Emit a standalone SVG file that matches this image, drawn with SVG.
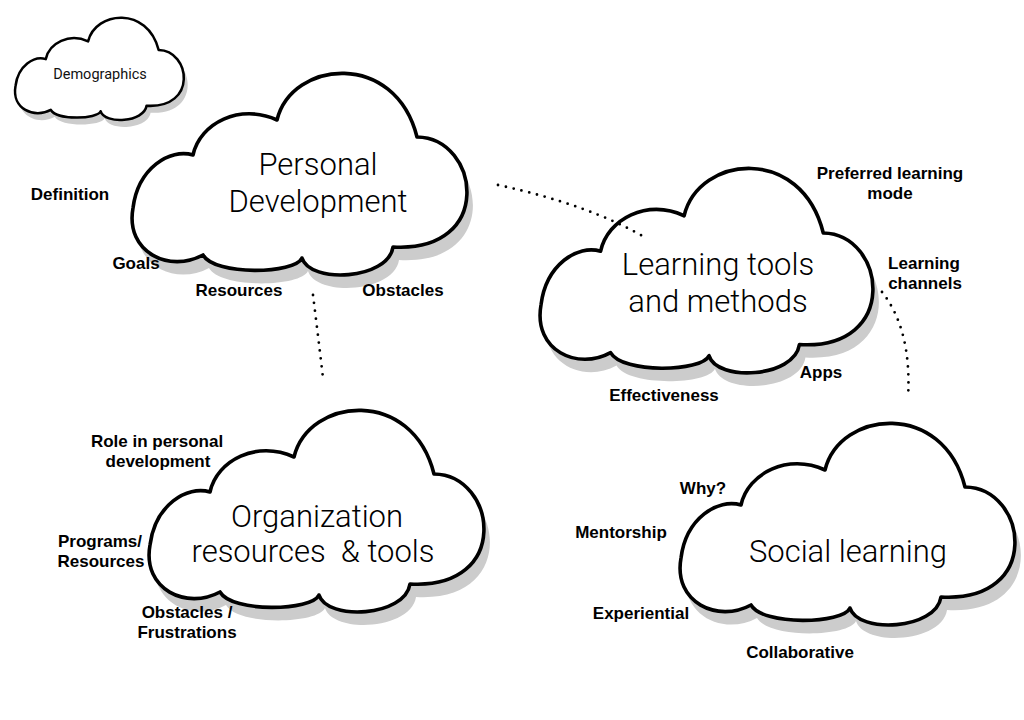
<svg xmlns="http://www.w3.org/2000/svg" xmlns:xlink="http://www.w3.org/1999/xlink" width="1024" height="720" viewBox="0 0 1024 720">
<style>
.shadow{fill:#cccccc;stroke:none}
.cloud{fill:#ffffff;stroke:#000000;stroke-width:3.6;stroke-linejoin:round}
.cloud-s{fill:#ffffff;stroke:#000000;stroke-width:5;stroke-linejoin:round}
.title{font-family:Roboto,"Liberation Sans",sans-serif;font-weight:300;font-size:31px;fill:#000;text-anchor:middle}
.small-title{font-family:Roboto,"Liberation Sans",sans-serif;font-weight:400;font-size:14.5px;fill:#111;text-anchor:middle}
.label{font-family:"Liberation Sans",Arial,sans-serif;font-weight:bold;font-size:17px;fill:#000;text-anchor:middle}
.dots{fill:none;stroke:#000;stroke-width:2.8;stroke-linecap:round;stroke-dasharray:0 8}
</style>
<defs>
<path id="cloudShape" d="M63,87 C70,55 110,35 147,52 C162,-8 265,-18 287,69 C350,70 365,185 263,179 C258,212 180,216 172,190 C165,206 85,208 73,187 C40,205 -5,185 3,140 C8,100 40,80 63,87 Z"/>
</defs>
<rect width="1024" height="720" fill="#ffffff"/>

<g id="demographics">
<use xlink:href="#cloudShape" class="shadow" transform="translate(18,22) scale(0.504,0.507)"/>
<use xlink:href="#cloudShape" class="cloud-s" transform="translate(14,15) scale(0.504,0.507)"/>
<text class="small-title" x="100" y="79">Demographics</text>
</g>

<g id="personal-development">
<use xlink:href="#cloudShape" class="shadow" transform="translate(136,81)"/>
<use xlink:href="#cloudShape" class="cloud" transform="translate(130,68)"/>
<text class="title" x="318" y="175">Personal</text>
<text class="title" x="318" y="212">Development</text>
</g>

<g id="learning-tools">
<use xlink:href="#cloudShape" class="shadow" transform="translate(544,176) scale(0.994,1.014)"/>
<use xlink:href="#cloudShape" class="cloud" transform="translate(538,163) scale(0.994,1.014)"/>
<text class="title" x="718" y="275">Learning tools</text>
<text class="title" x="718" y="312">and methods</text>
</g>

<g id="organization">
<use xlink:href="#cloudShape" class="shadow" transform="translate(153,418)"/>
<use xlink:href="#cloudShape" class="cloud" transform="translate(147,405)"/>
<text class="title" x="317" y="527">Organization</text>
<text class="title" x="313" y="562" xml:space="preserve">resources  &amp; tools</text>
</g>

<g id="social-learning">
<use xlink:href="#cloudShape" class="shadow" transform="translate(684,431)"/>
<use xlink:href="#cloudShape" class="cloud" transform="translate(678,418)"/>
<text class="title" x="848" y="562">Social learning</text>
</g>

<g id="connectors">
<path class="dots" d="M498,185 Q590,205 646,238"/>
<path class="dots" d="M313,295 Q318,335 323,378"/>
<path class="dots" d="M882,292 Q912,330 908,398"/>
</g>

<g id="labels">
<text class="label" x="70" y="200">Definition</text>
<text class="label" x="136" y="269">Goals</text>
<text class="label" x="239" y="296">Resources</text>
<text class="label" x="403" y="296">Obstacles</text>
<text class="label" x="890" y="179">Preferred learning</text>
<text class="label" x="890" y="199">mode</text>
<text class="label" x="924" y="269">Learning</text>
<text class="label" x="925" y="289">channels</text>
<text class="label" x="821" y="378">Apps</text>
<text class="label" x="664" y="401">Effectiveness</text>
<text class="label" x="157" y="447">Role in personal</text>
<text class="label" x="158" y="467">development</text>
<text class="label" x="100" y="547">Programs/</text>
<text class="label" x="101" y="567">Resources</text>
<text class="label" x="187" y="618">Obstacles /</text>
<text class="label" x="187" y="638">Frustrations</text>
<text class="label" x="703" y="494">Why?</text>
<text class="label" x="621" y="538">Mentorship</text>
<text class="label" x="641" y="619">Experiential</text>
<text class="label" x="800" y="658">Collaborative</text>
</g>
</svg>
